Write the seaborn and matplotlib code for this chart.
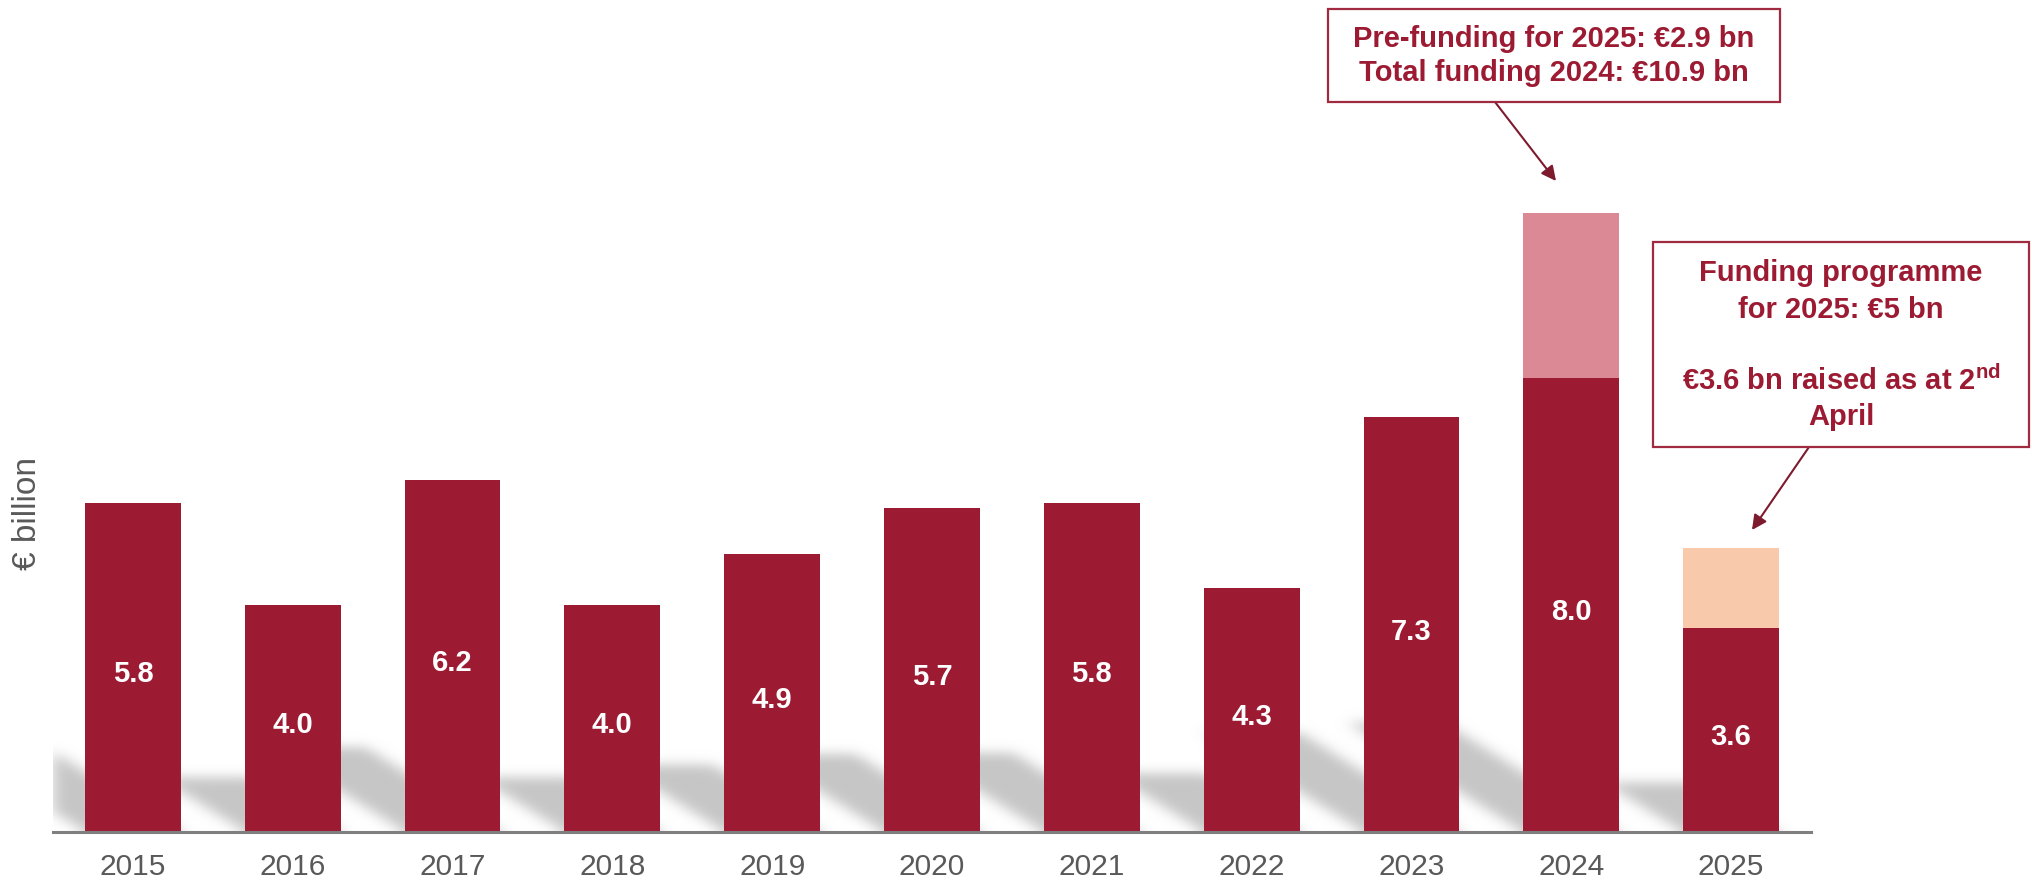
import numpy as np
import pandas as pd
import matplotlib
matplotlib.use("Agg")
import matplotlib.pyplot as plt
import matplotlib.transforms as mtransforms
import seaborn as sns
from matplotlib.patches import Rectangle

# ---- data -------------------------------------------------------------
years = ["2015", "2016", "2017", "2018", "2019", "2020",
         "2021", "2022", "2023", "2024", "2025"]
issued = [5.8, 4.0, 6.2, 4.0, 4.9, 5.7, 5.8, 4.3, 7.3, 8.0, 3.6]
# 2024: pre-funding for 2025; 2025: remainder of the EUR 5 bn programme
extra = [0, 0, 0, 0, 0, 0, 0, 0, 0, 2.9, 1.4]

box1_lines = ["Pre-funding for 2025: €2.9 bn", "Total funding 2024: €10.9 bn"]
box2_lines = ["Funding programme", "for 2025: €5 bn",
              "€3.6 bn raised as at 2$^{\\mathbf{nd}}$", "April"]
y_label = "€ billion"

# ---- style ------------------------------------------------------------
DARK = "#9C1B33"
PINK = "#DC8996"
PEACH = "#F8CAAB"
GREY_TXT = "#595959"
total_colors = [DARK] * 9 + [PINK, PEACH]

sns.set_style("white")
plt.rcParams["font.family"] = ["Liberation Sans", "DejaVu Sans"]
plt.rcParams["mathtext.fontset"] = "custom"
plt.rcParams["mathtext.rm"] = "Liberation Sans"
plt.rcParams["mathtext.bf"] = "Liberation Sans:bold"

W, H = 2033, 888
fig = plt.figure(figsize=(W / 100, H / 100), dpi=100)
ax = fig.add_axes([53 / W, 56 / H, 1758 / W, 832 / H])

df = pd.DataFrame({"year": years, "issued": issued,
                   "total": np.add(issued, extra)})

# ---- soft floor shadows cast up-left by each bar ------------------------
def _kernel(sigma):
    r = int(3 * sigma)
    k = np.exp(-0.5 * (np.arange(-r, r + 1) / sigma) ** 2)
    return k / k.sum(), r

def blur(a, sx, sy):
    kx, rx = _kernel(sx)
    ky, ry = _kernel(sy)
    p = np.pad(a, ((0, 0), (rx, rx)), mode="constant")
    a = np.array([np.convolve(row, kx, mode="valid") for row in p])
    p = np.pad(a, ((ry, ry), (0, 0)), mode="edge")
    a = np.array([np.convolve(col, ky, mode="valid") for col in p.T]).T
    return a

xs = np.linspace(-0.5, 10.5, 1400)
ys = np.linspace(0, 3.0, 300)
X, Y = np.meshgrid(xs, ys)
mask = np.zeros_like(X)
lean = 0.57          # horizontal drift of the shadow per unit of height
for i, h in enumerate(issued):
    dy = 0.24 * h
    shift = lean * Y
    inside = (Y <= dy) & (X >= i - 0.3 - shift) & (X <= i + 0.3 - shift)
    mask[inside] = 1.0
mask = blur(mask, 6, 10)
rgba = np.zeros(mask.shape + (4,))
rgba[..., :3] = 0.78
rgba[..., 3] = np.clip(mask, 0, 1)
ax.imshow(rgba, extent=(-0.5, 10.5, 0, 3.0), origin="lower",
          aspect="auto", zorder=1, interpolation="bilinear")

# ---- bars -------------------------------------------------------------
sns.barplot(data=df, x="year", y="total", hue="year", palette=total_colors,
            width=0.6, saturation=1, legend=False, linewidth=0,
            edgecolor="none", ax=ax, zorder=2)
sns.barplot(data=df, x="year", y="issued", color=DARK, width=0.6,
            saturation=1, linewidth=0, edgecolor="none", ax=ax, zorder=3)

label_tr = mtransforms.offset_copy(ax.transData, fig=fig, y=-7, units="dots")
for i, v in enumerate(issued):
    ax.text(i, v / 2, f"{v:.1f}", ha="center", va="center", color="white",
            fontsize=21, fontweight="bold", zorder=4, transform=label_tr)

ax.set_xlim(-0.5, 10.5)
ax.set_ylim(0, 14.65)
ax.set_yticks([])
ax.set_xlabel("")
ax.set_ylabel("")
ax.tick_params(axis="x", length=0, pad=15, labelsize=21.5,
               labelcolor=GREY_TXT)
for s in ["left", "right", "top"]:
    ax.spines[s].set_visible(False)
ax.spines["bottom"].set_color("#7F7F7F")
ax.spines["bottom"].set_linewidth(2.2)
ax.spines["bottom"].set_zorder(5)

fig.text(28 / W, 1 - 513 / H, y_label, rotation=90, ha="center",
         va="center", fontsize=24, color=GREY_TXT)

# ---- call-out boxes ---------------------------------------------------
def fx(x):
    return x / W

def fy(y):
    return 1 - y / H

def callout(x0, y0, x1, y1, lines, line_y, start, end):
    fig.add_artist(Rectangle((fx(x0), fy(y1)), fx(x1) - fx(x0),
                             fy(y0) - fy(y1), transform=fig.transFigure,
                             facecolor="white", edgecolor="#A02A40", lw=1.6,
                             zorder=6))
    cx = (x0 + x1) / 2
    for txt, ly in zip(lines, line_y):
        fig.text(fx(cx), fy(ly), txt, ha="center", va="center",
                 fontsize=21, fontweight="bold", color=DARK, zorder=7)
    ax.annotate("", xy=(fx(end[0]), fy(end[1])),
                xytext=(fx(start[0]), fy(start[1])),
                xycoords="figure fraction", textcoords="figure fraction",
                arrowprops=dict(arrowstyle="-|>", color="#7E1A2E", lw=1.5,
                                mutation_scale=22, shrinkA=0, shrinkB=0))

callout(1328, 9, 1780, 102, box1_lines, [39, 73],
        (1495, 102), (1556, 181))
callout(1653, 242, 2029, 447, box2_lines, [273, 310, 381, 417],
        (1809, 447), (1752, 530))

fig.savefig("out.png", dpi=100)
